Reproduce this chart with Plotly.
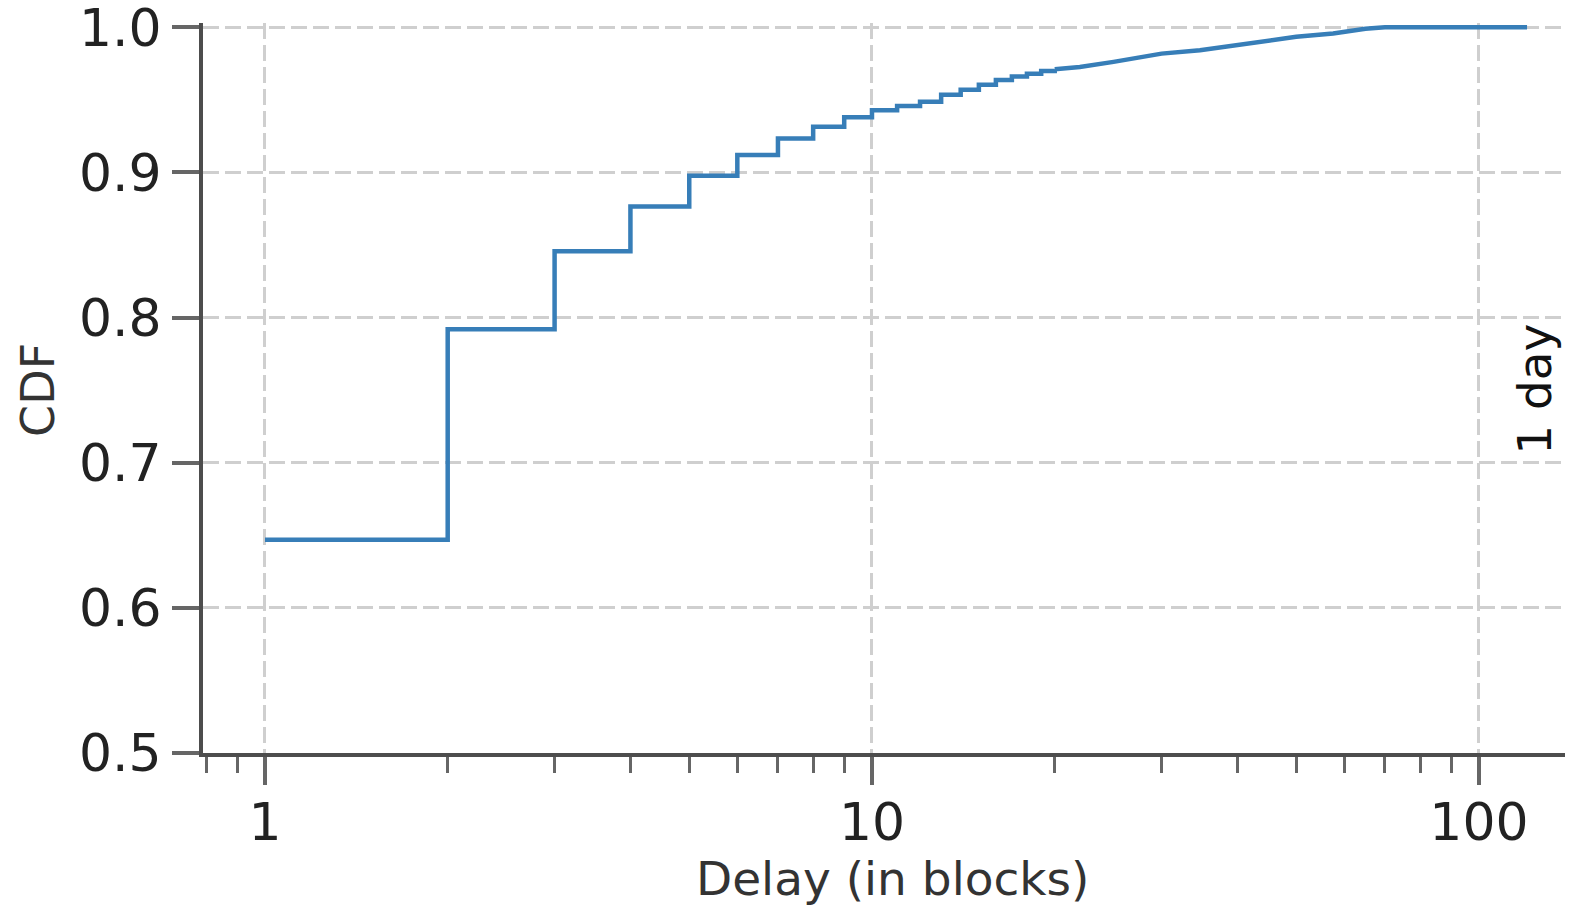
import math
import plotly.graph_objects as go

# CDF of confirmation delay, measured in blocks
# Integer delays 1..20: the distribution is a staircase at each block count
step_delay = list(range(1, 21))
step_cdf = [0.647, 0.792, 0.8457, 0.8766, 0.8977, 0.9121, 0.9235, 0.9315,
            0.938, 0.9428, 0.9458, 0.9487, 0.9535, 0.957, 0.9605, 0.9638,
            0.9662, 0.968, 0.9700, 0.9712]

# Long tail beyond 20 blocks, where the steps become too fine to see
tail_delay = [20, 22, 25, 27.4, 30, 34.7, 40, 44.7, 50, 57.5, 65, 70, 120]
tail_cdf = [0.9712, 0.9727, 0.9762, 0.9792, 0.9819, 0.9842, 0.988, 0.991,
            0.9935, 0.9957, 0.999, 1.0, 1.0]

y_ticks = [0.5, 0.6, 0.7, 0.8, 0.9, 1.0]
y_labels = ["0.5", "0.6", "0.7", "0.8", "0.9", "1.0"]
x_ticks = [1, 10, 100]
x_labels = ["1", "10", "100"]

LINE_COLOR = "#377eb8"
FONT = "DejaVu Sans"

fig = go.Figure()
fig.add_trace(go.Scatter(
    x=step_delay, y=step_cdf, mode="lines",
    line=dict(color=LINE_COLOR, width=4.5, shape="hv"),
    cliponaxis=False, showlegend=False, hoverinfo="x+y",
))
fig.add_trace(go.Scatter(
    x=tail_delay, y=tail_cdf, mode="lines",
    line=dict(color=LINE_COLOR, width=4.5),
    cliponaxis=False, showlegend=False, hoverinfo="x+y",
))

fig.update_xaxes(
    type="log",
    range=[-0.1021, 2.1417],
    automargin=False,
    tickvals=x_ticks, ticktext=x_labels,
    ticks="outside", ticklen=28, tickwidth=4, tickcolor="#666666",
    tickfont=dict(family=FONT, size=52, color="#222222"),
    ticklabelstandoff=-7,
    showline=True, linecolor="#4d4d4d", linewidth=4,
    showgrid=True, gridcolor="#cfcfcf", gridwidth=3, griddash="16px,6px",
    zeroline=False,
    minor=dict(ticks="outside", ticklen=16, tickwidth=3, tickcolor="#666666",
               dtick="D1", showgrid=False),
)
fig.update_yaxes(
    range=[0.5, 1.003],
    automargin=False,
    tickvals=y_ticks, ticktext=y_labels,
    ticks="outside", ticklen=27, tickwidth=4, tickcolor="#666666",
    tickfont=dict(family=FONT, size=52, color="#222222"),
    ticklabeloverflow="allow",
    showline=True, linecolor="#4d4d4d", linewidth=4,
    showgrid=True, gridcolor="#cfcfcf", gridwidth=3, griddash="16px,6px",
    zeroline=False,
)

fig.add_annotation(
    text="Delay (in blocks)", xref="paper", yref="paper",
    x=0.5062, y=-0.172, xanchor="center", yanchor="middle", showarrow=False,
    font=dict(family=FONT, size=47, color="#333333"),
)
fig.add_annotation(
    text="CDF", xref="paper", yref="paper",
    x=-0.1211, y=0.4975, xanchor="center", yanchor="middle", textangle=-90,
    showarrow=False, font=dict(family=FONT, size=46, color="#333333"),
)
fig.add_annotation(
    text="1 day", xref="paper", yref="paper",
    x=0.978, y=0.4975, xanchor="center", yanchor="middle", textangle=-90,
    showarrow=False, font=dict(family=FONT, size=47, color="#111111"),
)

fig.update_layout(
    width=1571, height=907,
    margin=dict(l=203, r=6, t=23, b=154, autoexpand=False),
    paper_bgcolor="white", plot_bgcolor="white",
)

fig.write_html("out.html")
